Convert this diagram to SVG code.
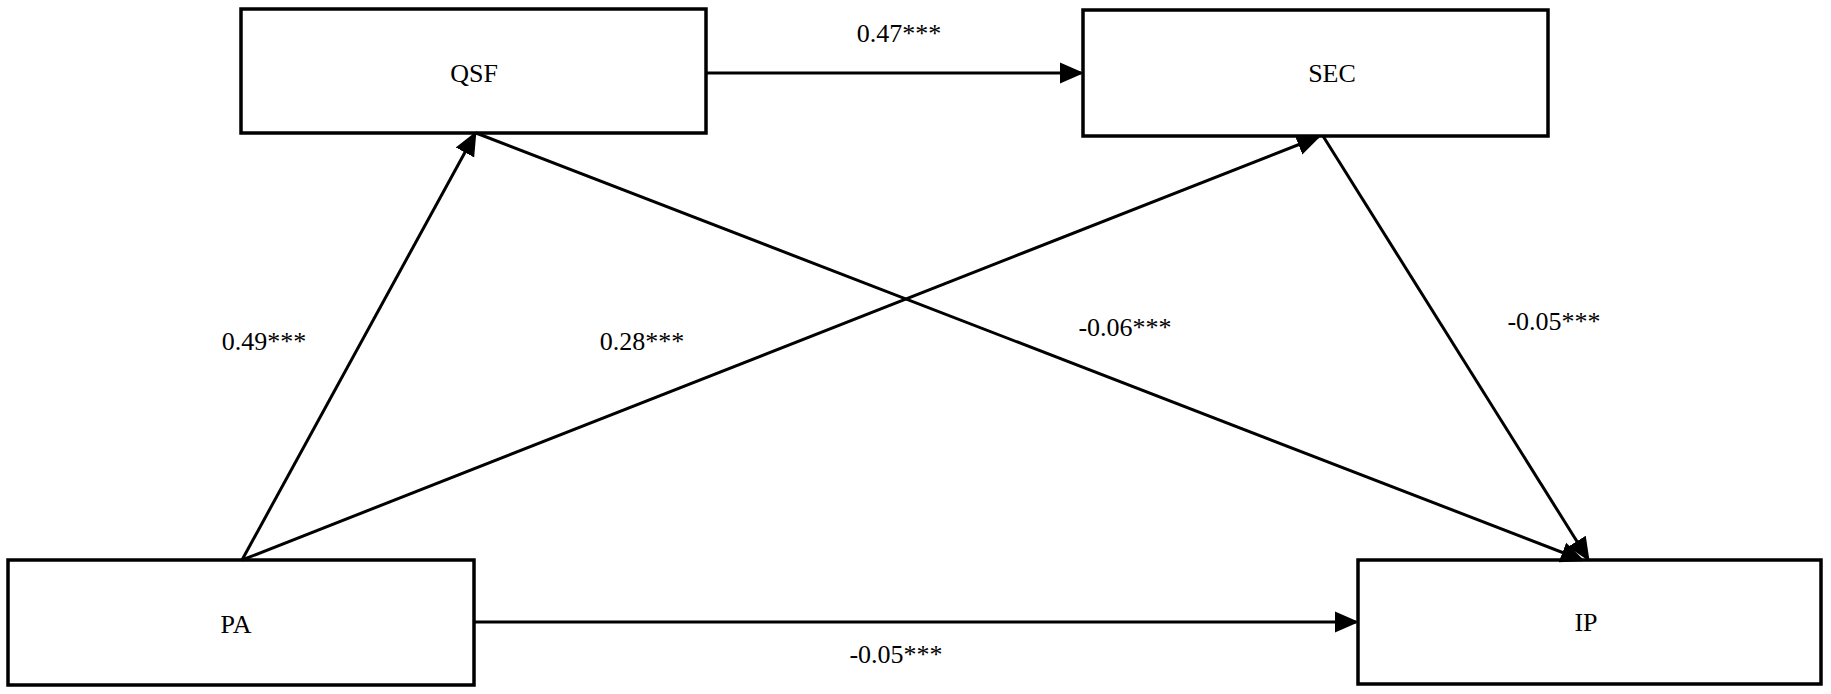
<svg xmlns="http://www.w3.org/2000/svg" width="1831" height="694" viewBox="0 0 1831 694">
<style>
rect{fill:#fff;stroke:#000;stroke-width:3.5}
text{font-family:"Liberation Serif",serif;font-size:26px;fill:#000;text-anchor:middle;dominant-baseline:central}
.c line{stroke:#000;stroke-width:3}
</style>
<defs><marker id="a" markerWidth="8" markerHeight="8" refX="7" refY="4" orient="auto" markerUnits="strokeWidth"><path d="M0,0.5 L8,4 L0,7.5z" fill="#000"/></marker></defs>
<rect width="1831" height="694" fill="#fff" style="stroke:none"/>
<g id="QSF"><rect x="241" y="9" width="465" height="124"/><text x="474" y="73">QSF</text></g>
<g id="SEC"><rect x="1083" y="10" width="465" height="126"/><text x="1332" y="73">SEC</text></g>
<g id="PA"><rect x="8" y="560" width="466" height="125"/><text x="236" y="624">PA</text></g>
<g id="IP"><rect x="1358" y="560" width="463" height="124"/><text x="1586" y="622">IP</text></g>
<g class="c">
<line x1="706" y1="73" x2="1081" y2="73" marker-end="url(#a)"/>
<line x1="474" y1="622" x2="1356" y2="622" marker-end="url(#a)"/>
<line x1="242" y1="560" x2="475" y2="134" marker-end="url(#a)"/>
<line x1="242" y1="560" x2="1318" y2="137" marker-end="url(#a)"/>
<line x1="476" y1="133" x2="1582" y2="560" marker-end="url(#a)"/>
<line x1="1323" y1="136" x2="1588" y2="559" marker-end="url(#a)"/>
</g>
<g id="labels">
<text x="899" y="33">0.47***</text>
<text x="264" y="341">0.49***</text>
<text x="642" y="341">0.28***</text>
<text x="1125" y="327">-0.06***</text>
<text x="1554" y="321">-0.05***</text>
<text x="896" y="654">-0.05***</text>
</g>
</svg>
